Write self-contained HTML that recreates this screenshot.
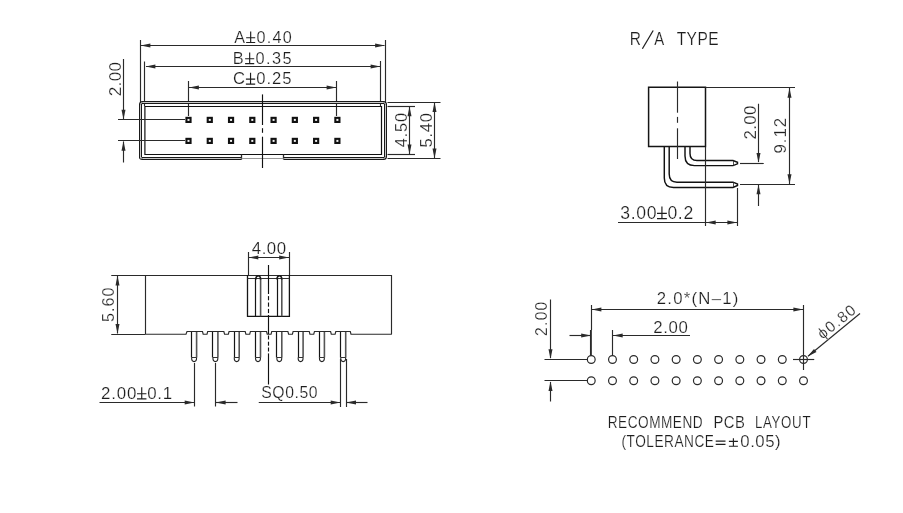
<!DOCTYPE html>
<html><head><meta charset="utf-8"><style>
html,body{margin:0;padding:0;background:#fff;}
svg{display:block;filter:grayscale(1);}
text{font-family:"Liberation Sans",sans-serif;}
</style></head><body>
<svg width="903" height="513" viewBox="0 0 903 513">
<rect width="903" height="513" fill="#fff"/>
<line x1="140.5" y1="40" x2="140.5" y2="102" stroke="#2a2a2a" stroke-width="1.15" />
<line x1="385.5" y1="40" x2="385.5" y2="102" stroke="#2a2a2a" stroke-width="1.15" />
<line x1="141" y1="45.5" x2="384.5" y2="45.5" stroke="#2a2a2a" stroke-width="1.15" />
<path d="M140.60,45.50 L150.40,43.50 L150.40,47.50 Z" fill="#2a2a2a"/>
<path d="M384.90,45.50 L375.10,47.50 L375.10,43.50 Z" fill="#2a2a2a"/>
<text transform="translate(234.17,42.80) scale(1.0000,1)" x="0" y="0" font-size="16.183" fill="#1e1e1e" stroke="#fff" stroke-width="0.2" textLength="57.56" lengthAdjust="spacing">A<tspan fill="transparent" stroke="none">±</tspan>0.40</text>
<path d="M250.68,31.50 L250.68,42.80 M246.16,37.71 L255.20,37.71 M246.16,42.50 L255.20,42.50" stroke="#1e1e1e" stroke-width="1.15" fill="none"/>
<line x1="144.5" y1="61.5" x2="144.5" y2="106" stroke="#2a2a2a" stroke-width="1.15" />
<line x1="380.5" y1="61" x2="380.5" y2="106" stroke="#2a2a2a" stroke-width="1.15" />
<line x1="146" y1="66.5" x2="380" y2="66.5" stroke="#2a2a2a" stroke-width="1.15" />
<path d="M145.60,66.50 L155.40,64.50 L155.40,68.50 Z" fill="#2a2a2a"/>
<path d="M380.40,66.50 L370.60,68.50 L370.60,64.50 Z" fill="#2a2a2a"/>
<text transform="translate(232.86,63.90) scale(1.0000,1)" x="0" y="0" font-size="16.327" fill="#1e1e1e" stroke="#fff" stroke-width="0.2" textLength="58.82" lengthAdjust="spacing">B<tspan fill="transparent" stroke="none">±</tspan>0.35</text>
<path d="M249.67,52.50 L249.67,63.90 M245.11,58.77 L254.23,58.77 M245.11,63.60 L254.23,63.60" stroke="#1e1e1e" stroke-width="1.15" fill="none"/>
<line x1="188.5" y1="81" x2="188.5" y2="116" stroke="#2a2a2a" stroke-width="1.15" />
<line x1="336.5" y1="81" x2="336.5" y2="116" stroke="#2a2a2a" stroke-width="1.15" />
<line x1="189" y1="87.5" x2="336.5" y2="87.5" stroke="#2a2a2a" stroke-width="1.15" />
<path d="M189.10,87.50 L198.90,85.50 L198.90,89.50 Z" fill="#2a2a2a"/>
<path d="M336.40,87.50 L326.60,89.50 L326.60,85.50 Z" fill="#2a2a2a"/>
<text transform="translate(232.96,84.40) scale(1.0000,1)" x="0" y="0" font-size="16.613" fill="#1e1e1e" stroke="#fff" stroke-width="0.2" textLength="58.64" lengthAdjust="spacing">C<tspan fill="transparent" stroke="none">±</tspan>0.25</text>
<path d="M250.55,72.80 L250.55,84.40 M245.91,79.18 L255.19,79.18 M245.91,84.10 L255.19,84.10" stroke="#1e1e1e" stroke-width="1.15" fill="none"/>
<path d="M140.5,158.5 L140.5,104.5 Q140.5,102.5 142.5,102.5 L383.5,102.5 Q385.5,102.5 385.5,104.5 L385.5,156.5 Q385.5,158.5 383.5,158.5 L283.7,158.5 M241.5,158.5 L142.5,158.5 Q140.5,158.5 140.5,156.5" stroke="#1a1a1a" stroke-width="3.0" fill="none" />
<path d="M140.5,158.5 L140.5,104.5 Q140.5,102.5 142.5,102.5 L383.5,102.5 Q385.5,102.5 385.5,104.5 L385.5,156.5 Q385.5,158.5 383.5,158.5 L283.7,158.5 M241.5,158.5 L142.5,158.5 Q140.5,158.5 140.5,156.5" stroke="#c8c8c8" stroke-width="1.0" fill="none" />
<path d="M144.9,106.5 L381.5,106.5 L381.5,154.5 L144.9,154.5 Z" stroke="#111" stroke-width="1.2" fill="none" />
<line x1="241.5" y1="154.5" x2="241.5" y2="159.5" stroke="#2a2a2a" stroke-width="1.3" />
<line x1="283.5" y1="154.5" x2="283.5" y2="159.5" stroke="#2a2a2a" stroke-width="1.3" />
<line x1="241.5" y1="158.5" x2="283.7" y2="158.5" stroke="#999" stroke-width="1.2" />
<rect x="185.40" y="116.80" width="6.2" height="6.2" fill="#111"/>
<rect x="187.50" y="118.90" width="2.0" height="2.0" fill="#f4f4f4"/>
<rect x="206.67" y="116.80" width="6.2" height="6.2" fill="#111"/>
<rect x="208.77" y="118.90" width="2.0" height="2.0" fill="#f4f4f4"/>
<rect x="227.94" y="116.80" width="6.2" height="6.2" fill="#111"/>
<rect x="230.04" y="118.90" width="2.0" height="2.0" fill="#f4f4f4"/>
<rect x="249.21" y="116.80" width="6.2" height="6.2" fill="#111"/>
<rect x="251.31" y="118.90" width="2.0" height="2.0" fill="#f4f4f4"/>
<rect x="270.48" y="116.80" width="6.2" height="6.2" fill="#111"/>
<rect x="272.58" y="118.90" width="2.0" height="2.0" fill="#f4f4f4"/>
<rect x="291.75" y="116.80" width="6.2" height="6.2" fill="#111"/>
<rect x="293.85" y="118.90" width="2.0" height="2.0" fill="#f4f4f4"/>
<rect x="313.02" y="116.80" width="6.2" height="6.2" fill="#111"/>
<rect x="315.12" y="118.90" width="2.0" height="2.0" fill="#f4f4f4"/>
<rect x="334.29" y="116.80" width="6.2" height="6.2" fill="#111"/>
<rect x="336.39" y="118.90" width="2.0" height="2.0" fill="#f4f4f4"/>
<rect x="185.40" y="137.80" width="6.2" height="6.2" fill="#111"/>
<rect x="187.50" y="139.90" width="2.0" height="2.0" fill="#f4f4f4"/>
<rect x="206.67" y="137.80" width="6.2" height="6.2" fill="#111"/>
<rect x="208.77" y="139.90" width="2.0" height="2.0" fill="#f4f4f4"/>
<rect x="227.94" y="137.80" width="6.2" height="6.2" fill="#111"/>
<rect x="230.04" y="139.90" width="2.0" height="2.0" fill="#f4f4f4"/>
<rect x="249.21" y="137.80" width="6.2" height="6.2" fill="#111"/>
<rect x="251.31" y="139.90" width="2.0" height="2.0" fill="#f4f4f4"/>
<rect x="270.48" y="137.80" width="6.2" height="6.2" fill="#111"/>
<rect x="272.58" y="139.90" width="2.0" height="2.0" fill="#f4f4f4"/>
<rect x="291.75" y="137.80" width="6.2" height="6.2" fill="#111"/>
<rect x="293.85" y="139.90" width="2.0" height="2.0" fill="#f4f4f4"/>
<rect x="313.02" y="137.80" width="6.2" height="6.2" fill="#111"/>
<rect x="315.12" y="139.90" width="2.0" height="2.0" fill="#f4f4f4"/>
<rect x="334.29" y="137.80" width="6.2" height="6.2" fill="#111"/>
<rect x="336.39" y="139.90" width="2.0" height="2.0" fill="#f4f4f4"/>
<line x1="118" y1="119.5" x2="185" y2="119.5" stroke="#2a2a2a" stroke-width="1.15" />
<line x1="118" y1="140.5" x2="185" y2="140.5" stroke="#2a2a2a" stroke-width="1.15" />
<line x1="123.5" y1="59" x2="123.5" y2="119" stroke="#2a2a2a" stroke-width="1.15" />
<path d="M123.50,119.50 L121.50,109.70 L125.50,109.70 Z" fill="#2a2a2a"/>
<line x1="123.5" y1="141.5" x2="123.5" y2="162.5" stroke="#2a2a2a" stroke-width="1.15" />
<path d="M123.50,141.00 L125.50,150.80 L121.50,150.80 Z" fill="#2a2a2a"/>
<text transform="translate(121.00,96.26) rotate(-90)" x="0" y="0" font-size="17.186" fill="#1e1e1e" stroke="#fff" stroke-width="0.2" textLength="34.44" lengthAdjust="spacing">2.00</text>
<line x1="262.5" y1="94.4" x2="262.5" y2="125" stroke="#111" stroke-width="1.15" />
<line x1="262.5" y1="128.2" x2="262.5" y2="132.8" stroke="#111" stroke-width="1.15" />
<line x1="262.5" y1="136.7" x2="262.5" y2="168" stroke="#111" stroke-width="1.15" />
<line x1="387.5" y1="102.5" x2="440.5" y2="102.5" stroke="#2a2a2a" stroke-width="1.15" />
<line x1="387.5" y1="158.5" x2="440.5" y2="158.5" stroke="#2a2a2a" stroke-width="1.15" />
<line x1="387.5" y1="106.5" x2="415" y2="106.5" stroke="#2a2a2a" stroke-width="1.15" />
<line x1="387.5" y1="154.5" x2="415" y2="154.5" stroke="#2a2a2a" stroke-width="1.15" />
<line x1="409.5" y1="107" x2="409.5" y2="154" stroke="#2a2a2a" stroke-width="1.15" />
<path d="M409.50,106.50 L411.50,116.30 L407.50,116.30 Z" fill="#2a2a2a"/>
<path d="M409.50,154.20 L407.50,144.40 L411.50,144.40 Z" fill="#2a2a2a"/>
<line x1="434.5" y1="103" x2="434.5" y2="158" stroke="#2a2a2a" stroke-width="1.15" />
<path d="M434.50,102.30 L436.50,112.10 L432.50,112.10 Z" fill="#2a2a2a"/>
<path d="M434.50,158.40 L432.50,148.60 L436.50,148.60 Z" fill="#2a2a2a"/>
<text transform="translate(406.70,147.17) rotate(-90)" x="0" y="0" font-size="16.327" fill="#1e1e1e" stroke="#fff" stroke-width="0.2" textLength="34.21" lengthAdjust="spacing">4.50</text>
<text transform="translate(432.20,147.47) rotate(-90)" x="0" y="0" font-size="16.613" fill="#1e1e1e" stroke="#fff" stroke-width="0.2" textLength="34.51" lengthAdjust="spacing">5.40</text>
<text transform="translate(629.83,44.90) scale(0.8200,1)" x="0" y="0" font-size="18.895" fill="#1e1e1e" stroke="#fff" stroke-width="0.2" textLength="13.65" lengthAdjust="spacing">R</text>
<line x1="642.4" y1="48.7" x2="653.2" y2="30.5" stroke="#1e1e1e" stroke-width="1.25" />
<text transform="translate(654.27,44.90) scale(0.7902,1)" x="0" y="0" font-size="18.895" fill="#1e1e1e" stroke="#fff" stroke-width="0.2" textLength="12.60" lengthAdjust="spacing">A</text>
<text transform="translate(676.65,45.00) scale(0.8147,1)" x="0" y="0" font-size="19.041" fill="#1e1e1e" stroke="#fff" stroke-width="0.2" textLength="51.57" lengthAdjust="spacing">TYPE</text>
<path d="M648.6,87.2 L705.5,87.2 L705.5,146.6 L648.6,146.6 Z" stroke="#151515" stroke-width="1.5" fill="none" />
<line x1="677.5" y1="81.5" x2="677.5" y2="112.7" stroke="#2a2a2a" stroke-width="1.15" />
<line x1="677.5" y1="116.9" x2="677.5" y2="122.8" stroke="#2a2a2a" stroke-width="1.15" />
<line x1="677.5" y1="128.3" x2="677.5" y2="159" stroke="#2a2a2a" stroke-width="1.15" />
<path d="M664.3,147 L664.3,178 Q664.3,187.5 673.5,187.5 L733,187.5 L737.5,185.5 L737.5,184 L733,182.2 L677,182.2 Q669.2,182.2 669.2,174 L669.2,147" stroke="#111" stroke-width="1.45" fill="none" />
<path d="M685,147 L685,156 Q685,165.6 694.5,165.6 L733,165.6 L737.5,163.8 L737.5,162.3 L733,160.5 L697,160.5 Q690,160.5 690,153.5 L690,147" stroke="#111" stroke-width="1.45" fill="none" />
<line x1="733.5" y1="182" x2="733.5" y2="187.5" stroke="#2a2a2a" stroke-width="0.8" />
<line x1="733.5" y1="160.5" x2="733.5" y2="165.8" stroke="#2a2a2a" stroke-width="0.8" />
<line x1="705.5" y1="147" x2="705.5" y2="226" stroke="#2a2a2a" stroke-width="1.15" />
<line x1="737.5" y1="188" x2="737.5" y2="226" stroke="#2a2a2a" stroke-width="1.15" />
<line x1="705.5" y1="87.5" x2="795" y2="87.5" stroke="#2a2a2a" stroke-width="1.15" />
<line x1="740" y1="163.5" x2="763.75" y2="163.5" stroke="#2a2a2a" stroke-width="1.15" />
<line x1="740" y1="184.5" x2="795" y2="184.5" stroke="#2a2a2a" stroke-width="1.15" />
<line x1="618" y1="222.5" x2="737.5" y2="222.5" stroke="#2a2a2a" stroke-width="1.15" />
<path d="M705.90,222.50 L715.70,220.50 L715.70,224.50 Z" fill="#2a2a2a"/>
<path d="M737.20,222.50 L727.40,224.50 L727.40,220.50 Z" fill="#2a2a2a"/>
<text transform="translate(620.23,218.90) scale(1.0000,1)" x="0" y="0" font-size="17.616" fill="#1e1e1e" stroke="#fff" stroke-width="0.2" textLength="72.96" lengthAdjust="spacing">3.00<tspan fill="transparent" stroke="none">±</tspan>0.2</text>
<path d="M661.93,206.60 L661.93,218.90 M657.01,213.37 L666.85,213.37 M657.01,218.60 L666.85,218.60" stroke="#1e1e1e" stroke-width="1.15" fill="none"/>
<line x1="758.5" y1="103.75" x2="758.5" y2="162" stroke="#2a2a2a" stroke-width="1.15" />
<path d="M758.50,162.70 L756.50,152.90 L760.50,152.90 Z" fill="#2a2a2a"/>
<line x1="758.5" y1="185" x2="758.5" y2="206" stroke="#2a2a2a" stroke-width="1.15" />
<path d="M758.50,184.50 L760.50,194.30 L756.50,194.30 Z" fill="#2a2a2a"/>
<text transform="translate(756.25,139.60) rotate(-90)" x="0" y="0" font-size="16.828" fill="#1e1e1e" stroke="#fff" stroke-width="0.2" textLength="34.00" lengthAdjust="spacing">2.00</text>
<line x1="789.5" y1="88" x2="789.5" y2="184" stroke="#2a2a2a" stroke-width="1.15" />
<path d="M789.50,88.00 L791.50,97.80 L787.50,97.80 Z" fill="#2a2a2a"/>
<path d="M789.50,184.00 L787.50,174.20 L791.50,174.20 Z" fill="#2a2a2a"/>
<text transform="translate(786.40,153.49) rotate(-90)" x="0" y="0" font-size="16.756" fill="#1e1e1e" stroke="#fff" stroke-width="0.2" textLength="35.63" lengthAdjust="spacing">9.12</text>
<line x1="111.25" y1="275.5" x2="391.75" y2="275.5" stroke="#2a2a2a" stroke-width="1.15" />
<line x1="111.25" y1="334.5" x2="145.5" y2="334.5" stroke="#2a2a2a" stroke-width="1.15" />
<line x1="145.5" y1="275" x2="145.5" y2="334.25" stroke="#2a2a2a" stroke-width="1.15" />
<line x1="391.5" y1="275" x2="391.5" y2="334.25" stroke="#2a2a2a" stroke-width="1.15" />
<path d="M145.50,334.25 L186.00,334.25 L187.00,331.50 L202.50,331.50 L203.20,334.25 L207.00,334.25 L207.70,331.50 L223.85,331.50 L224.55,334.25 L228.35,334.25 L229.05,331.50 L245.20,331.50 L245.90,334.25 L249.70,334.25 L250.40,331.50 L266.55,331.50 L267.25,334.25 L271.05,334.25 L271.75,331.50 L287.90,331.50 L288.60,334.25 L292.40,334.25 L293.10,331.50 L309.25,331.50 L309.95,334.25 L313.75,334.25 L314.45,331.50 L330.60,331.50 L331.30,334.25 L335.10,334.25 L335.80,331.50 L350.30,331.50 L351.00,334.25 L391.75,334.25" stroke="#2a2a2a" stroke-width="1.15" fill="none" />
<path d="M247.5,275 L247.5,316.3 L289.4,316.3 L289.4,275" stroke="#151515" stroke-width="1.3" fill="none" />
<line x1="247.5" y1="278.5" x2="289.4" y2="278.5" stroke="#333" stroke-width="1.0" />
<line x1="255.5" y1="278" x2="255.5" y2="316.3" stroke="#151515" stroke-width="1.2" />
<line x1="260.6" y1="278" x2="260.6" y2="316.3" stroke="#555" stroke-width="1.6" />
<path d="M255.8,279.5 Q255.8,275.8 258.2,275.8 Q260.6,275.8 260.6,279.5" stroke="#1a1a1a" stroke-width="1.6" fill="none" />
<line x1="277.5" y1="278" x2="277.5" y2="316.3" stroke="#151515" stroke-width="1.2" />
<line x1="281.8" y1="278" x2="281.8" y2="316.3" stroke="#555" stroke-width="1.6" />
<path d="M277.0,279.5 Q277.0,275.8 279.4,275.8 Q281.8,275.8 281.8,279.5" stroke="#1a1a1a" stroke-width="1.6" fill="none" />
<line x1="248.5" y1="252" x2="248.5" y2="275" stroke="#2a2a2a" stroke-width="1.15" />
<line x1="289.5" y1="252" x2="289.5" y2="275" stroke="#2a2a2a" stroke-width="1.15" />
<line x1="248.5" y1="257.5" x2="289" y2="257.5" stroke="#2a2a2a" stroke-width="1.15" />
<path d="M248.50,257.50 L258.30,255.50 L258.30,259.50 Z" fill="#2a2a2a"/>
<path d="M289.00,257.50 L279.20,259.50 L279.20,255.50 Z" fill="#2a2a2a"/>
<text transform="translate(251.81,254.40) scale(0.9955,1)" x="0" y="0" font-size="16.900" fill="#1e1e1e" stroke="#fff" stroke-width="0.2" textLength="34.40" lengthAdjust="spacing">4.00</text>
<line x1="268.5" y1="265" x2="268.5" y2="294" stroke="#111" stroke-width="1.15" />
<line x1="268.5" y1="296.1" x2="268.5" y2="300.3" stroke="#111" stroke-width="1.15" />
<line x1="268.5" y1="302.5" x2="268.5" y2="306.7" stroke="#111" stroke-width="1.15" />
<line x1="268.5" y1="308.9" x2="268.5" y2="313.09999999999997" stroke="#111" stroke-width="1.15" />
<line x1="268.5" y1="315" x2="268.5" y2="334" stroke="#111" stroke-width="1.15" />
<line x1="268.5" y1="335.5" x2="268.5" y2="339.5" stroke="#111" stroke-width="1.15" />
<line x1="268.5" y1="341.7" x2="268.5" y2="345.7" stroke="#111" stroke-width="1.15" />
<line x1="268.5" y1="347.5" x2="268.5" y2="351.5" stroke="#111" stroke-width="1.15" />
<line x1="268.5" y1="353.4" x2="268.5" y2="384.5" stroke="#111" stroke-width="1.15" />
<line x1="191.5" y1="332" x2="191.5" y2="357.5" stroke="#151515" stroke-width="1.2" />
<line x1="196.6" y1="332" x2="196.6" y2="357.5" stroke="#555" stroke-width="1.6" />
<line x1="191.6" y1="357.5" x2="196.6" y2="357.5" stroke="#333" stroke-width="1.0" />
<path d="M191.60,357.5 Q191.60,361.6 194.10,361.6 Q196.60,361.6 196.60,357.5" stroke="#222" stroke-width="1.1" fill="none" />
<line x1="212.5" y1="332" x2="212.5" y2="357.5" stroke="#151515" stroke-width="1.2" />
<line x1="217.9" y1="332" x2="217.9" y2="357.5" stroke="#555" stroke-width="1.6" />
<line x1="212.9" y1="357.5" x2="217.9" y2="357.5" stroke="#333" stroke-width="1.0" />
<path d="M212.90,357.5 Q212.90,361.6 215.40,361.6 Q217.90,361.6 217.90,357.5" stroke="#222" stroke-width="1.1" fill="none" />
<line x1="234.5" y1="332" x2="234.5" y2="357.5" stroke="#151515" stroke-width="1.2" />
<line x1="239.2" y1="332" x2="239.2" y2="357.5" stroke="#555" stroke-width="1.6" />
<line x1="234.2" y1="357.5" x2="239.2" y2="357.5" stroke="#333" stroke-width="1.0" />
<path d="M234.20,357.5 Q234.20,361.6 236.70,361.6 Q239.20,361.6 239.20,357.5" stroke="#222" stroke-width="1.1" fill="none" />
<line x1="255.5" y1="332" x2="255.5" y2="357.5" stroke="#151515" stroke-width="1.2" />
<line x1="260.5" y1="332" x2="260.5" y2="357.5" stroke="#555" stroke-width="1.6" />
<line x1="255.5" y1="357.5" x2="260.5" y2="357.5" stroke="#333" stroke-width="1.0" />
<path d="M255.50,357.5 Q255.50,361.6 258.00,361.6 Q260.50,361.6 260.50,357.5" stroke="#222" stroke-width="1.1" fill="none" />
<line x1="276.5" y1="332" x2="276.5" y2="357.5" stroke="#151515" stroke-width="1.2" />
<line x1="281.8" y1="332" x2="281.8" y2="357.5" stroke="#555" stroke-width="1.6" />
<line x1="276.8" y1="357.5" x2="281.8" y2="357.5" stroke="#333" stroke-width="1.0" />
<path d="M276.80,357.5 Q276.80,361.6 279.30,361.6 Q281.80,361.6 281.80,357.5" stroke="#222" stroke-width="1.1" fill="none" />
<line x1="298.5" y1="332" x2="298.5" y2="357.5" stroke="#151515" stroke-width="1.2" />
<line x1="303.1" y1="332" x2="303.1" y2="357.5" stroke="#555" stroke-width="1.6" />
<line x1="298.1" y1="357.5" x2="303.1" y2="357.5" stroke="#333" stroke-width="1.0" />
<path d="M298.10,357.5 Q298.10,361.6 300.60,361.6 Q303.10,361.6 303.10,357.5" stroke="#222" stroke-width="1.1" fill="none" />
<line x1="319.5" y1="332" x2="319.5" y2="357.5" stroke="#151515" stroke-width="1.2" />
<line x1="324.4" y1="332" x2="324.4" y2="357.5" stroke="#555" stroke-width="1.6" />
<line x1="319.4" y1="357.5" x2="324.4" y2="357.5" stroke="#333" stroke-width="1.0" />
<path d="M319.40,357.5 Q319.40,361.6 321.90,361.6 Q324.40,361.6 324.40,357.5" stroke="#222" stroke-width="1.1" fill="none" />
<line x1="340.5" y1="332" x2="340.5" y2="357.5" stroke="#151515" stroke-width="1.2" />
<line x1="345.7" y1="332" x2="345.7" y2="357.5" stroke="#555" stroke-width="1.6" />
<line x1="340.7" y1="357.5" x2="345.7" y2="357.5" stroke="#333" stroke-width="1.0" />
<path d="M340.70,357.5 Q340.70,361.6 343.20,361.6 Q345.70,361.6 345.70,357.5" stroke="#222" stroke-width="1.1" fill="none" />
<line x1="117.5" y1="276" x2="117.5" y2="333.5" stroke="#2a2a2a" stroke-width="1.15" />
<path d="M117.50,275.60 L119.50,285.40 L115.50,285.40 Z" fill="#2a2a2a"/>
<path d="M117.50,333.80 L115.50,324.00 L119.50,324.00 Z" fill="#2a2a2a"/>
<text transform="translate(113.90,322.05) rotate(-90)" x="0" y="0" font-size="16.183" fill="#1e1e1e" stroke="#fff" stroke-width="0.2" textLength="34.68" lengthAdjust="spacing">5.60</text>
<line x1="99.5" y1="402.5" x2="194" y2="402.5" stroke="#2a2a2a" stroke-width="1.15" />
<path d="M194.50,402.50 L184.70,404.50 L184.70,400.50 Z" fill="#2a2a2a"/>
<line x1="194.5" y1="363" x2="194.5" y2="406.5" stroke="#2a2a2a" stroke-width="1.15" />
<line x1="215.5" y1="363" x2="215.5" y2="406.5" stroke="#2a2a2a" stroke-width="1.15" />
<line x1="216" y1="402.5" x2="237.5" y2="402.5" stroke="#2a2a2a" stroke-width="1.15" />
<path d="M215.80,402.50 L225.60,400.50 L225.60,404.50 Z" fill="#2a2a2a"/>
<text transform="translate(101.05,399.10) scale(1.0000,1)" x="0" y="0" font-size="16.900" fill="#1e1e1e" stroke="#fff" stroke-width="0.2" textLength="71.18" lengthAdjust="spacing">2.00<tspan fill="transparent" stroke="none">±</tspan>0.1</text>
<path d="M141.73,387.30 L141.73,399.10 M137.01,393.79 L146.45,393.79 M137.01,398.80 L146.45,398.80" stroke="#1e1e1e" stroke-width="1.15" fill="none"/>
<line x1="258.75" y1="402.5" x2="340" y2="402.5" stroke="#2a2a2a" stroke-width="1.15" />
<path d="M340.50,402.50 L330.70,404.50 L330.70,400.50 Z" fill="#2a2a2a"/>
<line x1="340.5" y1="359" x2="340.5" y2="407" stroke="#2a2a2a" stroke-width="1.15" />
<line x1="346.5" y1="359" x2="346.5" y2="407" stroke="#2a2a2a" stroke-width="1.15" />
<line x1="346.5" y1="402.5" x2="367.5" y2="402.5" stroke="#2a2a2a" stroke-width="1.15" />
<path d="M346.20,402.50 L356.00,400.50 L356.00,404.50 Z" fill="#2a2a2a"/>
<text transform="translate(261.28,398.00) scale(1.0000,1)" x="0" y="0" font-size="15.754" fill="#1e1e1e" stroke="#fff" stroke-width="0.2" textLength="56.33" lengthAdjust="spacing">SQ0.50</text>
<circle cx="591.25" cy="359.5" r="3.9" fill="none" stroke="#2a2a2a" stroke-width="1.2"/>
<circle cx="612.48" cy="359.5" r="3.9" fill="none" stroke="#2a2a2a" stroke-width="1.2"/>
<circle cx="633.70" cy="359.5" r="3.9" fill="none" stroke="#2a2a2a" stroke-width="1.2"/>
<circle cx="654.92" cy="359.5" r="3.9" fill="none" stroke="#2a2a2a" stroke-width="1.2"/>
<circle cx="676.15" cy="359.5" r="3.9" fill="none" stroke="#2a2a2a" stroke-width="1.2"/>
<circle cx="697.38" cy="359.5" r="3.9" fill="none" stroke="#2a2a2a" stroke-width="1.2"/>
<circle cx="718.60" cy="359.5" r="3.9" fill="none" stroke="#2a2a2a" stroke-width="1.2"/>
<circle cx="739.83" cy="359.5" r="3.9" fill="none" stroke="#2a2a2a" stroke-width="1.2"/>
<circle cx="761.05" cy="359.5" r="3.9" fill="none" stroke="#2a2a2a" stroke-width="1.2"/>
<circle cx="782.27" cy="359.5" r="3.9" fill="none" stroke="#2a2a2a" stroke-width="1.2"/>
<circle cx="803.50" cy="359.5" r="3.9" fill="none" stroke="#2a2a2a" stroke-width="1.2"/>
<circle cx="591.25" cy="380.75" r="3.9" fill="none" stroke="#2a2a2a" stroke-width="1.2"/>
<circle cx="612.48" cy="380.75" r="3.9" fill="none" stroke="#2a2a2a" stroke-width="1.2"/>
<circle cx="633.70" cy="380.75" r="3.9" fill="none" stroke="#2a2a2a" stroke-width="1.2"/>
<circle cx="654.92" cy="380.75" r="3.9" fill="none" stroke="#2a2a2a" stroke-width="1.2"/>
<circle cx="676.15" cy="380.75" r="3.9" fill="none" stroke="#2a2a2a" stroke-width="1.2"/>
<circle cx="697.38" cy="380.75" r="3.9" fill="none" stroke="#2a2a2a" stroke-width="1.2"/>
<circle cx="718.60" cy="380.75" r="3.9" fill="none" stroke="#2a2a2a" stroke-width="1.2"/>
<circle cx="739.83" cy="380.75" r="3.9" fill="none" stroke="#2a2a2a" stroke-width="1.2"/>
<circle cx="761.05" cy="380.75" r="3.9" fill="none" stroke="#2a2a2a" stroke-width="1.2"/>
<circle cx="782.27" cy="380.75" r="3.9" fill="none" stroke="#2a2a2a" stroke-width="1.2"/>
<circle cx="803.50" cy="380.75" r="3.9" fill="none" stroke="#2a2a2a" stroke-width="1.2"/>
<line x1="544.5" y1="359.5" x2="587.3" y2="359.5" stroke="#2a2a2a" stroke-width="1.15" />
<line x1="544.5" y1="380.5" x2="587.3" y2="380.5" stroke="#2a2a2a" stroke-width="1.15" />
<line x1="550.5" y1="299.5" x2="550.5" y2="358" stroke="#2a2a2a" stroke-width="1.15" />
<path d="M550.50,359.00 L548.50,349.20 L552.50,349.20 Z" fill="#2a2a2a"/>
<line x1="550.5" y1="382" x2="550.5" y2="401.5" stroke="#2a2a2a" stroke-width="1.15" />
<path d="M550.50,381.30 L552.50,391.10 L548.50,391.10 Z" fill="#2a2a2a"/>
<text transform="translate(547.20,335.89) rotate(-90)" x="0" y="0" font-size="15.611" fill="#1e1e1e" stroke="#fff" stroke-width="0.2" textLength="34.19" lengthAdjust="spacing">2.00</text>
<line x1="591.5" y1="305" x2="591.5" y2="330" stroke="#2a2a2a" stroke-width="1.15" />
<line x1="590.9" y1="330" x2="590.9" y2="355.6" stroke="#2a2a2a" stroke-width="1.9" />
<line x1="612.5" y1="330" x2="612.5" y2="355.6" stroke="#2a2a2a" stroke-width="1.15" />
<line x1="592" y1="309.5" x2="803" y2="309.5" stroke="#2a2a2a" stroke-width="1.15" />
<path d="M591.60,309.50 L601.40,307.50 L601.40,311.50 Z" fill="#2a2a2a"/>
<path d="M803.20,309.50 L793.40,311.50 L793.40,307.50 Z" fill="#2a2a2a"/>
<text transform="translate(656.76,303.90) scale(1.0000,1)" x="0" y="0" font-size="16.762" fill="#1e1e1e" stroke="#fff" stroke-width="0.2" textLength="81.58" lengthAdjust="spacing">2.0*(N–1)</text>
<line x1="569.5" y1="335.5" x2="590.5" y2="335.5" stroke="#2a2a2a" stroke-width="1.15" />
<path d="M591.00,335.50 L581.20,337.50 L581.20,333.50 Z" fill="#2a2a2a"/>
<line x1="613" y1="335.5" x2="690" y2="335.5" stroke="#2a2a2a" stroke-width="1.15" />
<path d="M612.90,335.50 L622.70,333.50 L622.70,337.50 Z" fill="#2a2a2a"/>
<text transform="translate(653.35,333.00) scale(1.0000,1)" x="0" y="0" font-size="16.828" fill="#1e1e1e" stroke="#fff" stroke-width="0.2" textLength="34.40" lengthAdjust="spacing">2.00</text>
<line x1="803.5" y1="305" x2="803.5" y2="370" stroke="#2a2a2a" stroke-width="1.15" />
<line x1="793" y1="359.5" x2="814.25" y2="359.5" stroke="#2a2a2a" stroke-width="1.15" />
<line x1="808" y1="356.3" x2="860" y2="313.5" stroke="#2a2a2a" stroke-width="1.15" />
<path d="M807.60,356.60 L813.98,348.89 L816.49,352.01 Z" fill="#2a2a2a"/>
<text transform="translate(822.60,339.80) rotate(-38.9)" x="0" y="0" font-size="15.500" fill="#1e1e1e" stroke="#fff" stroke-width="0.2" textLength="44.00" lengthAdjust="spacing">ϕ0.80</text>
<text transform="translate(607.78,427.70) scale(0.8226,1)" x="0" y="0" font-size="16.570" fill="#1e1e1e" stroke="#fff" stroke-width="0.2" textLength="115.32" lengthAdjust="spacing">RECOMMEND</text>
<text transform="translate(713.39,427.70) scale(0.8920,1)" x="0" y="0" font-size="16.570" fill="#1e1e1e" stroke="#fff" stroke-width="0.2" textLength="35.19" lengthAdjust="spacing">PCB</text>
<text transform="translate(754.91,427.70) scale(0.8009,1)" x="0" y="0" font-size="16.570" fill="#1e1e1e" stroke="#fff" stroke-width="0.2" textLength="69.42" lengthAdjust="spacing">LAYOUT</text>
<text transform="translate(621.45,446.60) scale(0.8543,1)" x="0" y="0" font-size="15.988" fill="#1e1e1e" stroke="#fff" stroke-width="0.2" textLength="108.32" lengthAdjust="spacing">(TOLERANCE</text>
<path d="M715.7,441.1 L725.5,441.1 M715.7,444.4 L725.5,444.4 M733.4,438.2 L733.4,446.6 M728.9,441.4 L737.9,441.4 M728.9,446.2 L737.9,446.2" stroke="#1e1e1e" stroke-width="1.15" fill="none"/>
<text transform="translate(740.35,446.70) scale(0.9997,1)" x="0" y="0" font-size="16.762" fill="#1e1e1e" stroke="#fff" stroke-width="0.2" textLength="40.21" lengthAdjust="spacing">0.05)</text>
</svg>
</body></html>
